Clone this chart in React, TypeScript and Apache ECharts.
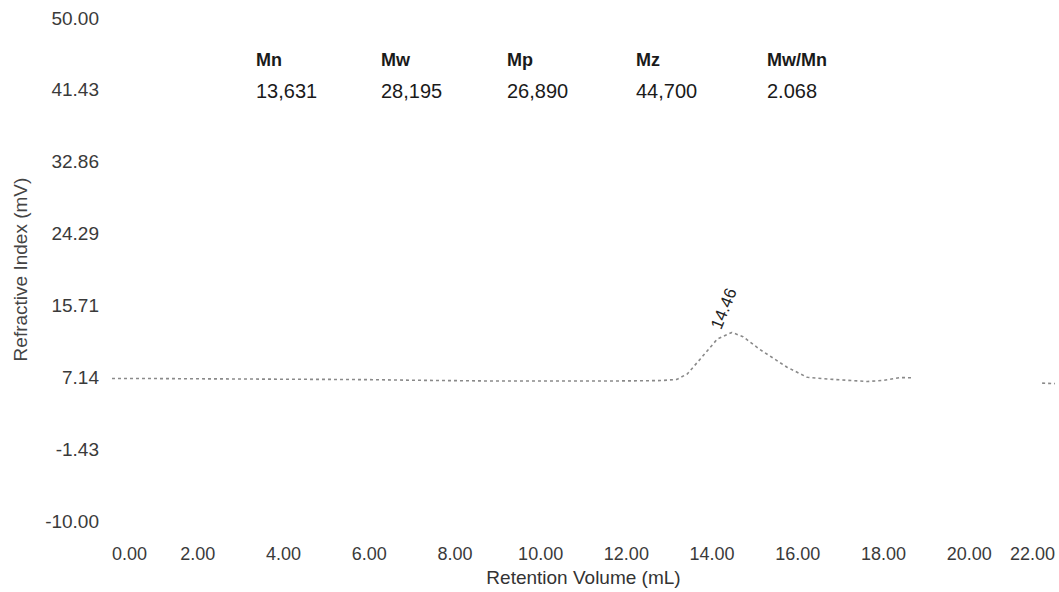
import React, { useEffect, useRef } from "react";
import * as echarts from "echarts";

// Retention volume (mL) and refractive index (mV)
const retentionVolume: number[] = [
  0.0, 1.0, 2.0, 3.0, 4.0, 5.0, 6.0, 7.0, 8.0, 9.0, 10.0, 11.0, 12.0, 12.8,
  13.18, 13.42, 13.72, 14.12, 14.46, 14.72, 15.12, 15.42, 15.75, 16.22, 16.82,
  17.62, 17.99, 18.39, 18.7, 19.5, 21.7, 22.0,
];
const refractiveIndex: (number | null)[] = [
  7.0, 7.0, 6.97, 6.95, 6.92, 6.9, 6.87, 6.8, 6.75, 6.7, 6.7, 6.7, 6.72,
  6.76, 6.9, 7.55, 9.3, 11.7, 12.5, 12.0, 10.45, 9.45, 8.35, 7.15, 6.9,
  6.65, 6.78, 7.12, 7.08, null, 6.45, 6.4,
];

const yTickValues: number[] = [-10.0, -1.43, 7.14, 15.71, 24.29, 32.86, 41.43, 50.0];
const xTickValues: number[] = [0, 2, 4, 6, 8, 10, 12, 14, 16, 18, 20, 22];

const statNames: string[] = ["Mn", "Mw", "Mp", "Mz", "Mw/Mn"];
const statValues: string[] = ["13,631", "28,195", "26,890", "44,700", "2.068"];

const FONT = "'Liberation Sans', Arial, sans-serif";
const statColumnX = [256, 381, 507, 636, 767];

export default function App() {
  const ref = useRef<HTMLDivElement>(null);

  useEffect(() => {
    if (!ref.current) return;
    const chart = echarts.init(ref.current, undefined, { renderer: "svg" });

    const seriesData = retentionVolume.map((x, i) => [x, refractiveIndex[i] === null ? "-" : refractiveIndex[i]]);
    let peakIdx = 0;
    refractiveIndex.forEach((v, i) => {
      if (v !== null && v > (refractiveIndex[peakIdx] as number)) peakIdx = i;
    });
    const peakX = retentionVolume[peakIdx];
    const peakY = refractiveIndex[peakIdx] as number;

    const graphics: any[] = [];
    statNames.forEach((name, i) => {
      graphics.push({
        type: "text",
        left: statColumnX[i],
        top: 51,
        style: { text: name, font: `bold 18px ${FONT}`, fill: "#1a1a1a" },
      });
      graphics.push({
        type: "text",
        left: statColumnX[i],
        top: 81,
        style: { text: statValues[i], font: `20px ${FONT}`, fill: "#1a1a1a" },
      });
    });

    chart.setOption({
      animation: false,
      backgroundColor: "#ffffff",
      grid: { left: 112, right: 4, top: 18, bottom: 70, containLabel: false },
      xAxis: {
        type: "value",
        min: 0,
        max: 22,
        interval: 2,
        name: "Retention Volume (mL)",
        nameLocation: "middle",
        nameGap: 46,
        nameTextStyle: { fontFamily: FONT, fontSize: 19, color: "#333" },
        axisLine: { show: false },
        axisTick: { show: false },
        splitLine: { show: false },
        axisLabel: {
          customValues: xTickValues,
          margin: 24,
          alignMinLabel: "left",
          alignMaxLabel: "right",
          fontFamily: FONT,
          fontSize: 18,
          color: "#3a3a3a",
          formatter: (v: number) => v.toFixed(2),
        },
      },
      yAxis: {
        type: "value",
        min: -10,
        max: 50,
        name: "Refractive Index (mV)",
        nameLocation: "middle",
        nameGap: 82,
        nameRotate: 90,
        nameTextStyle: { fontFamily: FONT, fontSize: 19, color: "#444" },
        axisLine: { show: false },
        axisTick: { show: false },
        splitLine: { show: false },
        axisLabel: {
          customValues: yTickValues,
          margin: 13,
          fontFamily: FONT,
          fontSize: 19,
          color: "#3a3a3a",
          formatter: (v: number) => v.toFixed(2),
        },
      },
      series: [
        {
          type: "line",
          data: seriesData,
          symbol: "none",
          connectNulls: false,
          lineStyle: { color: "#8a8a8a", width: 1.6, type: [3, 3] },
          markPoint: {
            symbol: "circle",
            symbolSize: 1,
            itemStyle: { color: "rgba(0,0,0,0)" },
            label: {
              show: true,
              position: "top",
              distance: 20,
              rotate: 68,
              fontFamily: FONT,
              fontSize: 17,
              color: "#222",
              formatter: () => peakX.toFixed(2),
            },
            data: [{ coord: [peakX, peakY] }],
          },
        },
      ],
      graphic: graphics,
    });

    return () => chart.dispose();
  }, []);

  return (
    <div
      ref={ref}
      style={{ position: "absolute", left: 0, top: 0, width: 1059, height: 592 }}
    />
  );
}
